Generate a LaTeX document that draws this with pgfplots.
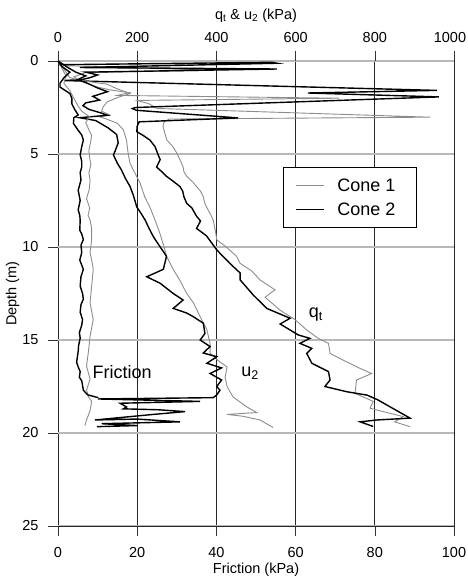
\documentclass[border=0pt]{standalone}
\usepackage{fontspec}
\setmainfont{Liberation Sans}
\usepackage{pgfplots}
\pgfplotsset{compat=1.18}
\definecolor{cgray}{HTML}{8C8C8C}
\definecolor{gridgray}{HTML}{B8B8B8}
\begin{document}
\begin{tikzpicture}
\useasboundingbox (0,0) rectangle (468pt,576pt);
\pgfplotsset{
  common/.style={
    at={(58pt,50pt)}, anchor=south west, scale only axis, width=396pt, height=465pt,
    ymin=0, ymax=25, y dir=reverse, clip=false,
    tick align=outside, major tick length=10pt,
    tick style={black!80, line width=0.6pt},
    /pgf/number format/assume math mode=true,
    /pgf/number format/1000 sep={},
    tick label style={font=\fontsize{14.5}{16}\selectfont},
    label style={font=\fontsize{14.5}{16}\selectfont},
  },
  c1/.style={cgray, line width=0.9pt},
  c2/.style={black, line width=1.4pt},
}
\begin{axis}[common,
  xmin=0, xmax=1000, xtick={0,200,...,1000},
  xticklabels={0,200,400,600,800,\hspace*{-8pt}1000},
  axis x line*=top, axis y line*=left, axis line style={draw=none},
  xtick pos=right, xticklabel pos=right,
  ytick={0,5,...,25}, ytick pos=left,
  xticklabel shift=5pt, yticklabel shift=6pt,
  xlabel shift=3pt, ylabel shift=-4pt,
  xmajorgrids, ymajorgrids,
  major x grid style={black!85, line width=0.7pt},
  major y grid style={gridgray, line width=1.2pt},
  xlabel={q\textsubscript{t} \& u\textsubscript{2} (kPa)},
  ylabel={Depth (m)},
  legend style={at={(axis cs:567,5.715)}, anchor=north west, draw=black, line width=0.7pt,
    font=\fontsize{18}{22}\selectfont, inner xsep=12pt, inner ysep=11pt, row sep=10pt,
    column sep=13pt, nodes={inner sep=0pt}},
  legend cell align=left,
  legend image code/.code={\draw[#1] (0pt,0pt) -- (28pt,0pt);},
]
% q_t cone 1
\addplot[c1] coordinates {
(0,0) (15,0.25) (390,0.5) (70,0.62) (40,0.85) (60,1.1) (90,1.35) (130,1.55) (180,1.7) (150,1.85) (710,2.0) (200,2.12) (230,2.3) (250,2.55) (940,3.02) (280,3.12) (268,3.3) (265,3.5) (270,3.9) (275,4.25) (290,4.6) (300,4.95) (308,5.3) (316,5.7) (318,5.95) (325,6.2) (340,6.5) (350,6.75) (360,7.0) (367,7.3) (370,7.6) (375,7.85) (384,8.2) (392,8.55) (398,9.2) (401,9.62) (425,10.0) (451,10.5) (460,10.88) (490,11.3) (510,11.77) (548,12.3) (523,12.7) (561,13.4) (598,13.9) (628,14.46) (657,14.91) (683,15.18) (687,15.72) (720,16.08) (760,16.5) (792,16.8) (754,17.15) (750,17.87) (796,18.3) (788,18.67) (821,18.85) (872,19.12) (850,19.4) (889,19.66)
};
\addlegendentry{\makebox[67pt][l]{Cone 1}}
% q_t cone 2
\addplot[c2] coordinates {
(0,0) (5,0.2) (540,0.07) (553,0.12) (55,0.35) (553,0.43) (70,0.6) (100,0.75) (80,0.9) (60,1.0) (15,1.05) (957,1.58) (631,1.72) (962,1.93) (195,2.5) (188,2.56) (198,2.65) (455,3.06) (205,3.27) (200,3.5) (199,3.8) (215,4.0) (232,4.25) (245,4.6) (253,5.05) (258,5.3) (249,5.7) (262,5.95) (274,6.2) (290,6.45) (308,6.75) (315,7.0) (318,7.3) (325,7.65) (338,7.9) (350,8.35) (360,8.6) (350,9.0) (375,9.4) (401,10.16) (434,10.88) (460,11.4) (460,11.77) (493,12.58) (527,13.3) (586,13.83) (561,14.14) (607,14.73) (636,14.91) (611,15.18) (641,15.45) (628,15.72) (641,16.25) (683,16.7) (687,17.15) (674,17.5) (729,17.78) (780,17.96) (806,18.2) (889,19.2) (805,19.3) (763,19.4) (796,19.65)
};
\addlegendentry{\makebox[67pt][l]{Cone 2}}
% u2 cone 1
\addplot[c1, forget plot] coordinates {
(0,0) (10,0.3) (20,0.6) (30,0.9) (60,1.05) (124,1.25) (150,1.5) (182,1.75) (152,1.95) (124,2.2) (114,2.47) (110,2.7) (131,2.9) (105,3.0) (120,3.1) (150,3.35) (165,3.7) (173,4.25) (177,4.95) (182,5.5) (190,5.85) (207,6.55) (219,7.3) (232,7.85) (245,8.55) (257,9.25) (268,10.0) (274,10.5) (291,11.2) (308,11.8) (325,12.5) (342,13.0) (359,13.75) (376,14.45) (384,15.2) (384,15.7) (404,16.1) (427,16.45) (422,17.0) (427,17.5) (442,18.06) (477,18.6) (502,18.9) (427,19.0) (467,19.1) (510,19.3) (543,19.7)
};
% u2 cone 2
\addplot[c2, forget plot] coordinates {
(0,0) (25,0.35) (45,0.6) (70,0.8) (50,1.0) (75,1.2) (100,1.45) (125,1.65) (88,1.9) (105,2.1) (70,2.25) (63,2.4) (78,2.6) (110,2.8) (125,2.92) (80,3.0) (55,3.05) (95,3.2) (127,3.6) (148,3.95) (152,4.4) (145,4.8) (140,5.05) (150,5.5) (160,5.85) (170,6.3) (182,6.75) (190,7.2) (199,7.85) (210,8.2) (220,8.55) (230,9.0) (241,9.45) (255,9.9) (274,10.5) (266,11.2) (224,11.6) (258,11.95) (291,12.5) (316,12.85) (291,13.3) (325,13.55) (342,13.75) (367,14.1) (371,14.65) (359,15.0) (384,15.35) (367,15.7) (401,15.9) (376,16.25) (413,16.5) (384,16.8) (413,17.15) (401,17.5) (409,17.7) (401,17.95) (392,18.1) (101,18.17) (359,18.3) (157,18.4) (173,18.6) (165,18.7) (253,18.75) (321,18.85) (241,19.0) (93,19.3) (199,19.25) (308,19.4) (110,19.5) (200,19.6) (98,19.66)
};
\node[font=\fontsize{18}{20}\selectfont] at (axis cs:162,16.72) {Friction};
\node[font=\fontsize{18}{20}\selectfont] at (axis cs:485,16.8) {u\textsubscript{2}};
\node[font=\fontsize{18}{20}\selectfont] at (axis cs:651,13.65) {q\textsubscript{t}};
\end{axis}
\begin{axis}[common,
  xmin=0, xmax=100, xtick={0,20,...,100},
  axis x line*=bottom, axis y line=none,
  xtick pos=left, xticklabel pos=left,
  xticklabel shift=8pt, xlabel shift=-2pt,
  axis line style={black!85, line width=0.8pt},
  xlabel={Friction (kPa)},
]
% friction cone 1
\addplot[c1] coordinates {
(0,0) (1,0.4) (2,0.8) (1.5,1.2) (3,1.6) (4,2.0) (5,2.4) (6,2.7) (8,3.0) (7,3.3) (7.8,3.7) (8.5,4.0) (8.2,4.4) (7.8,4.8) (8.0,5.2) (8.3,5.6) (7.8,6.0) (8.1,6.4) (7.9,6.9) (7.2,7.4) (8.0,7.9) (7.6,8.3) (8.1,8.55) (8.5,9.0) (8.5,9.6) (8.1,10.3) (8.6,10.8) (8.9,11.2) (8.5,12.1) (8.1,13.0) (8.9,13.9) (8.1,14.8) (7.7,15.6) (7.2,16.4) (8.1,17.1) (7.2,17.7) (7.7,18.05) (8.5,18.3) (8.1,18.8) (7.2,19.3) (6.8,19.6)
};
% friction cone 2
\addplot[c2] coordinates {
(0,0) (1,0.3) (3,0.6) (1.5,0.9) (0.5,1.2) (0.5,1.4) (3,1.75) (3.5,2.0) (3.5,2.3) (4.2,2.6) (5.1,2.9) (4.0,3.05) (3.9,3.35) (5.0,3.7) (6.0,3.98) (6.4,4.25) (6.0,4.6) (5.6,5.05) (6.0,5.4) (6.0,5.7) (5.6,6.0) (5.8,6.4) (5.1,6.95) (5.6,7.5) (5.1,8.0) (5.5,8.3) (5.6,8.55) (5.5,9.1) (6.0,9.3) (6.4,9.6) (5.8,9.9) (6.0,10.3) (5.5,10.7) (6.4,11.2) (5.8,11.6) (5.6,12.1) (6.2,12.5) (6.4,12.8) (5.8,13.1) (5.6,13.5) (6.2,13.9) (6.0,14.2) (5.4,14.6) (5.6,14.9) (5.2,15.3) (5.1,15.6) (4.7,16.2) (5.2,16.5) (5.6,16.7) (5.4,17.0) (6.0,17.2) (6.4,17.7) (7.5,17.95) (10.2,18.1)
};
\end{axis}
\end{tikzpicture}
\end{document}
